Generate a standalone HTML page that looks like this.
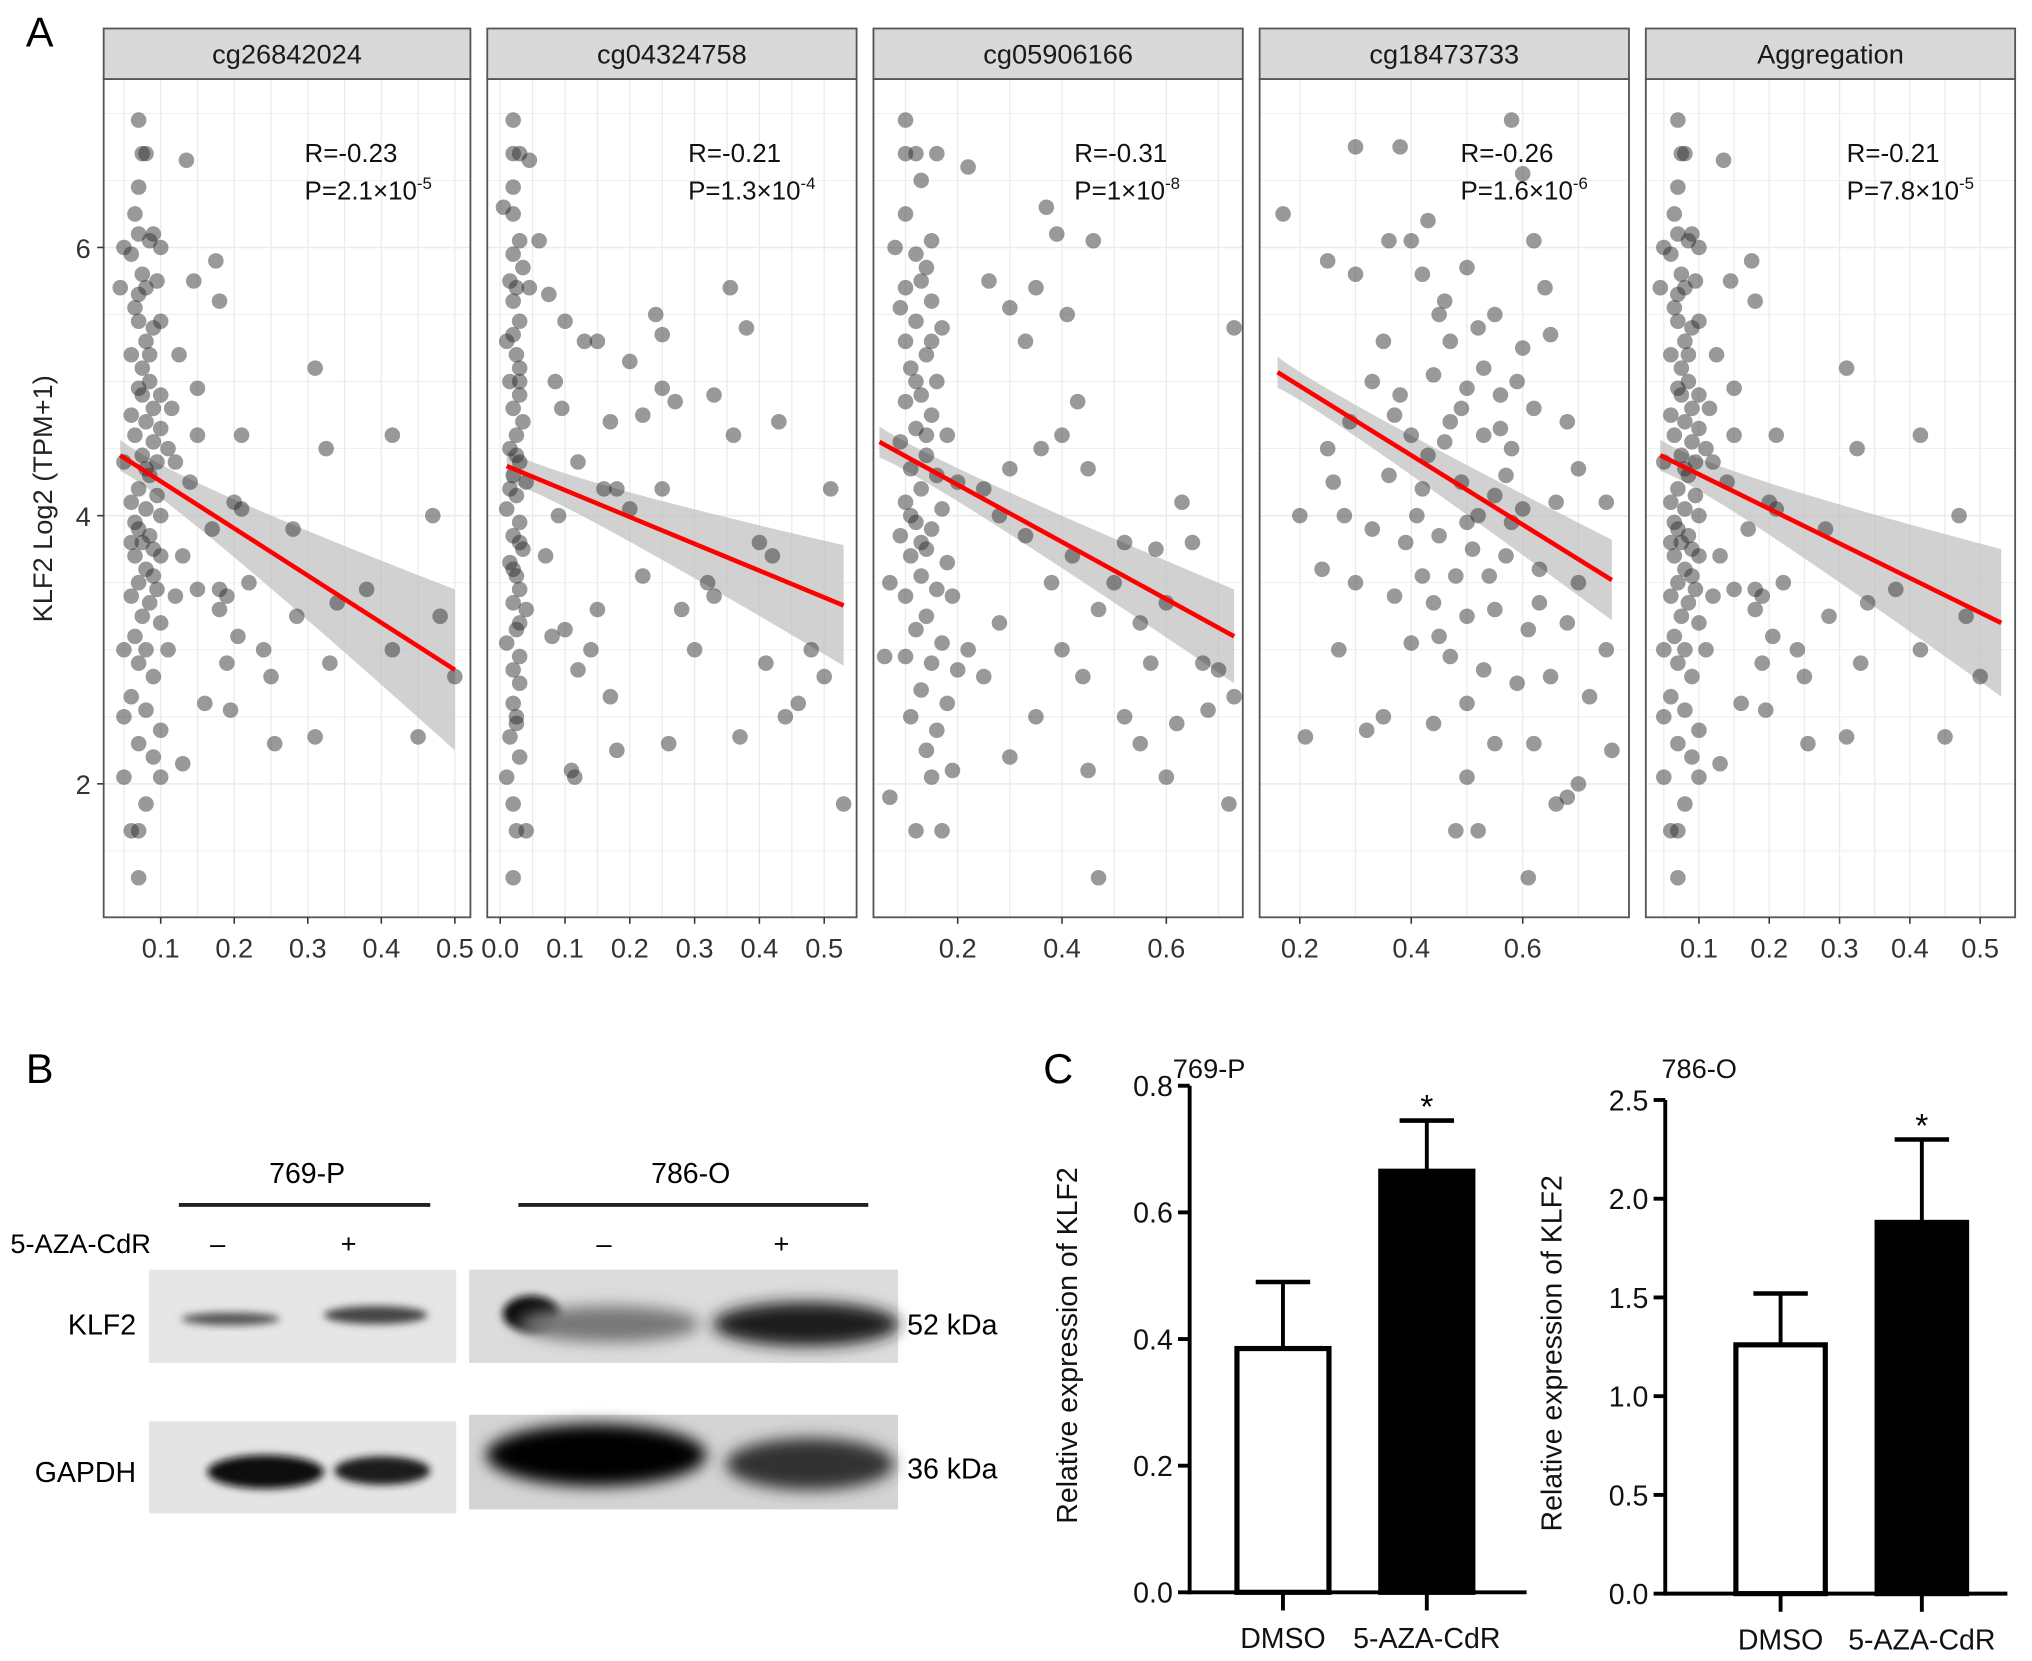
<!DOCTYPE html>
<html><head><meta charset="utf-8"><style>
html,body{margin:0;padding:0;background:#fff;}
svg{display:block;font-family:"Liberation Sans",sans-serif;}
</style></head><body>
<svg id="fig" width="2032" height="1661" viewBox="0 0 1568 1282" preserveAspectRatio="none" xmlns="http://www.w3.org/2000/svg">
<defs>
<filter id="blur" x="-20%" y="-50%" width="140%" height="200%"><feGaussianBlur stdDeviation="6"/></filter>
<filter id="blur2" x="-20%" y="-50%" width="140%" height="200%"><feGaussianBlur stdDeviation="3"/></filter>
</defs>
<g id="panelA"></g>
<text x="20" y="36" font-size="32">A</text>
<text transform="translate(40,385) rotate(-90)" text-anchor="middle" font-size="21" fill="#222">KLF2 Log2 (TPM+1)</text>

<g>
<text x="20" y="836" font-size="32">B</text>
<text x="237" y="913" text-anchor="middle" font-size="22">769-P</text>
<line x1="138" y1="930" x2="332" y2="930" stroke="#222" stroke-width="3"/>
<text x="533" y="913" text-anchor="middle" font-size="22">786-O</text>
<line x1="400" y1="930" x2="670" y2="930" stroke="#222" stroke-width="3"/>
<text x="8" y="967" font-size="21">5-AZA-CdR</text>
<text x="168" y="967" text-anchor="middle" font-size="21">–</text>
<text x="269" y="967" text-anchor="middle" font-size="21">+</text>
<text x="466" y="967" text-anchor="middle" font-size="21">–</text>
<text x="603" y="967" text-anchor="middle" font-size="21">+</text>
<text x="105" y="1030" text-anchor="end" font-size="22">KLF2</text>
<text x="105" y="1144" text-anchor="end" font-size="22">GAPDH</text>
<text x="700" y="1030" font-size="22">52 kDa</text>
<text x="700" y="1141" font-size="22">36 kDa</text>
<g>
<rect x="115" y="980" width="237" height="72" fill="#e6e6e6"/>
<ellipse cx="178" cy="1018" rx="38" ry="5" fill="#555" filter="url(#blur2)"/>
<ellipse cx="290" cy="1015" rx="40" ry="7" fill="#444" filter="url(#blur2)"/>
</g>
<g>
<rect x="362" y="980" width="331" height="72" fill="#dcdcdc"/>
<ellipse cx="410" cy="1014" rx="22" ry="14" fill="#111" filter="url(#blur2)"/>
<ellipse cx="470" cy="1022" rx="70" ry="14" fill="#777" filter="url(#blur)"/>
<ellipse cx="622" cy="1022" rx="72" ry="17" fill="#1a1a1a" filter="url(#blur)"/>
</g>
<g>
<rect x="115" y="1097" width="237" height="71" fill="#e4e4e4"/>
<ellipse cx="205" cy="1136" rx="45" ry="13" fill="#0a0a0a" filter="url(#blur2)"/>
<ellipse cx="295" cy="1135" rx="37" ry="11" fill="#1a1a1a" filter="url(#blur2)"/>
</g>
<g>
<rect x="362" y="1092" width="331" height="73" fill="#d4d4d4"/>
<ellipse cx="460" cy="1123" rx="85" ry="24" fill="#050505" filter="url(#blur)"/>
<ellipse cx="625" cy="1130" rx="65" ry="20" fill="#333" filter="url(#blur)"/>
</g>
</g>

<text x="805" y="836" font-size="32">C</text>
<g id="panelC"></g>
</svg>
<script>
const panelTitles = ["cg26842024","cg04324758","cg05906166","cg18473733","Aggregation"];
const rValues = ["-0.23","-0.21","-0.31","-0.26","-0.21"];
const pMant = ["2.1","1.3","1","1.6","7.8"];
const pExp = ["-5","-4","-8","-6","-5"];
const yTicks = [2,4,6];
const xTicks1 = [0.1,0.2,0.3,0.4,0.5];
const xTicks2 = [0.0,0.1,0.2,0.3,0.4,0.5];
const xTicks3 = [0.2,0.4,0.6];
const xTicks4 = [0.2,0.4,0.6];
const xTicks5 = [0.1,0.2,0.3,0.4,0.5];
const fitLines = [[0.045,4.45,0.5,2.85,0.6],[0.01,4.37,0.53,3.33,0.45],[0.05,4.55,0.73,3.1,0.35],[0.16,5.07,0.76,3.52,0.3],[0.045,4.45,0.53,3.2,0.55]];
const pts1 = [0.07,6.95,0.075,6.7,0.08,6.7,0.07,6.45,0.065,6.25,0.07,6.1,0.085,6.05,0.09,6.1,0.05,6.0,0.1,6.0,0.06,5.95,0.075,5.8,0.08,5.7,0.095,5.75,0.045,5.7,0.065,5.55,0.07,5.45,0.09,5.4,0.1,5.45,0.08,5.3,0.06,5.2,0.075,5.1,0.085,5.0,0.07,4.95,0.1,4.9,0.09,4.8,0.06,4.75,0.08,4.7,0.1,4.65,0.065,4.6,0.09,4.55,0.075,4.45,0.11,4.5,0.05,4.4,0.085,4.3,0.07,4.2,0.095,4.15,0.06,4.1,0.08,4.05,0.1,4.0,0.07,3.9,0.085,3.85,0.075,3.8,0.09,3.75,0.065,3.7,0.1,3.7,0.08,3.6,0.07,3.5,0.095,3.45,0.06,3.4,0.085,3.35,0.075,3.25,0.1,3.2,0.065,3.1,0.08,3.0,0.05,3.0,0.07,2.9,0.09,2.8,0.06,2.65,0.08,2.55,0.05,2.5,0.1,2.4,0.07,2.3,0.09,2.2,0.05,2.05,0.1,2.05,0.08,1.85,0.07,1.65,0.06,1.65,0.07,1.3,0.12,4.4,0.115,4.8,0.125,5.2,0.13,3.7,0.12,3.4,0.11,3.0,0.135,6.65,0.145,5.75,0.15,4.6,0.15,4.95,0.14,4.25,0.15,3.45,0.16,2.6,0.13,2.15,0.175,5.9,0.18,5.6,0.17,3.9,0.18,3.45,0.18,3.3,0.19,2.9,0.195,2.55,0.2,4.1,0.21,4.6,0.22,3.5,0.24,3.0,0.25,2.8,0.255,2.3,0.28,3.9,0.285,3.25,0.31,5.1,0.31,2.35,0.325,4.5,0.33,2.9,0.34,3.35,0.38,3.45,0.415,4.6,0.415,3.0,0.45,2.35,0.47,4.0,0.48,3.25,0.5,2.8,0.205,3.1,0.19,3.4,0.21,4.05,0.075,4.9,0.085,5.2,0.065,3.95,0.09,3.55,0.08,4.35,0.07,5.65,0.095,4.4,0.06,3.8];
const pts2 = [0.02,6.95,0.02,6.7,0.03,6.7,0.045,6.65,0.02,6.45,0.005,6.3,0.02,6.25,0.03,6.05,0.02,5.95,0.035,5.85,0.015,5.75,0.025,5.7,0.045,5.7,0.06,6.05,0.075,5.65,0.02,5.6,0.03,5.45,0.01,5.3,0.025,5.2,0.03,5.1,0.015,5.0,0.03,4.9,0.02,4.8,0.035,4.7,0.025,4.6,0.015,4.5,0.03,4.4,0.02,4.3,0.04,4.25,0.025,4.15,0.01,4.05,0.03,3.95,0.02,3.85,0.035,3.75,0.015,3.65,0.025,3.55,0.03,3.45,0.02,3.35,0.04,3.3,0.025,3.15,0.01,3.05,0.03,2.95,0.02,2.85,0.03,2.75,0.02,2.6,0.025,2.45,0.015,2.35,0.03,2.2,0.01,2.05,0.02,1.85,0.025,1.65,0.04,1.65,0.02,1.3,0.02,5.35,0.03,5.0,0.025,4.45,0.015,4.2,0.03,3.8,0.02,3.6,0.03,3.2,0.025,2.5,0.1,5.45,0.07,3.7,0.09,4.0,0.085,5.0,0.095,4.8,0.13,5.3,0.15,5.3,0.17,4.7,0.2,5.15,0.24,5.5,0.25,5.35,0.27,4.85,0.25,4.95,0.22,4.75,0.16,4.2,0.18,4.2,0.2,4.05,0.12,4.4,0.12,2.85,0.14,3.0,0.15,3.3,0.17,2.65,0.18,2.25,0.11,2.1,0.115,2.05,0.22,3.55,0.25,4.2,0.26,2.3,0.28,3.3,0.3,3.0,0.32,3.5,0.33,4.9,0.33,3.4,0.355,5.7,0.36,4.6,0.38,5.4,0.37,2.35,0.4,3.8,0.41,2.9,0.42,3.7,0.43,4.7,0.44,2.5,0.46,2.6,0.48,3.0,0.5,2.8,0.51,4.2,0.53,1.85,0.08,3.1,0.1,3.15];
const pts3 = [0.1,6.95,0.12,6.7,0.1,6.7,0.16,6.7,0.13,6.5,0.1,6.25,0.15,6.05,0.08,6.0,0.12,5.95,0.14,5.85,0.1,5.7,0.13,5.75,0.15,5.6,0.09,5.55,0.12,5.45,0.17,5.4,0.1,5.3,0.14,5.2,0.11,5.1,0.16,5.0,0.13,4.9,0.1,4.85,0.15,4.75,0.12,4.65,0.18,4.6,0.09,4.55,0.14,4.45,0.11,4.35,0.16,4.3,0.2,4.25,0.13,4.2,0.1,4.1,0.17,4.05,0.12,3.95,0.15,3.9,0.09,3.85,0.14,3.75,0.11,3.7,0.18,3.65,0.13,3.55,0.16,3.45,0.1,3.4,0.19,3.4,0.14,3.25,0.12,3.15,0.17,3.05,0.1,2.95,0.15,2.9,0.2,2.85,0.13,2.7,0.18,2.6,0.11,2.5,0.16,2.4,0.14,2.25,0.19,2.1,0.15,2.05,0.12,1.65,0.17,1.65,0.07,1.9,0.06,2.95,0.07,3.5,0.12,5.0,0.14,4.6,0.11,4.0,0.13,3.8,0.15,5.3,0.22,6.6,0.26,5.75,0.3,5.55,0.33,5.3,0.35,5.7,0.37,6.3,0.41,5.5,0.46,6.05,0.39,6.1,0.43,4.85,0.45,4.35,0.4,4.6,0.36,4.5,0.3,4.35,0.25,4.2,0.28,4.0,0.33,3.85,0.38,3.5,0.42,3.7,0.47,3.3,0.5,3.5,0.52,3.8,0.55,3.2,0.58,3.75,0.6,3.35,0.63,4.1,0.65,3.8,0.67,2.9,0.7,2.85,0.73,2.65,0.72,1.85,0.73,5.4,0.6,2.05,0.55,2.3,0.52,2.5,0.45,2.1,0.47,1.3,0.35,2.5,0.3,2.2,0.25,2.8,0.28,3.2,0.22,3.0,0.4,3.0,0.44,2.8,0.62,2.45,0.68,2.55,0.57,2.9];
const pts4 = [0.17,6.25,0.3,6.75,0.38,6.75,0.36,6.05,0.4,6.05,0.43,6.2,0.58,6.95,0.6,6.55,0.62,6.05,0.64,5.7,0.5,5.85,0.45,5.5,0.42,5.8,0.25,5.9,0.3,5.8,0.35,5.3,0.47,5.3,0.52,5.4,0.55,5.5,0.6,5.25,0.65,5.35,0.33,5.0,0.38,4.9,0.44,5.05,0.5,4.95,0.56,4.9,0.62,4.8,0.68,4.7,0.29,4.7,0.4,4.6,0.46,4.55,0.53,4.6,0.58,4.5,0.7,4.35,0.25,4.5,0.36,4.3,0.42,4.2,0.49,4.25,0.55,4.15,0.6,4.05,0.66,4.1,0.75,4.1,0.28,4.0,0.33,3.9,0.39,3.8,0.45,3.85,0.51,3.75,0.57,3.7,0.63,3.6,0.7,3.5,0.3,3.5,0.37,3.4,0.44,3.35,0.5,3.25,0.55,3.3,0.61,3.15,0.68,3.2,0.75,3.0,0.4,3.05,0.47,2.95,0.53,2.85,0.59,2.75,0.65,2.8,0.72,2.65,0.35,2.5,0.44,2.45,0.5,2.6,0.55,2.3,0.62,2.3,0.7,2.0,0.76,2.25,0.21,2.35,0.5,2.05,0.48,1.65,0.52,1.65,0.61,1.3,0.66,1.85,0.68,1.9,0.2,4.0,0.24,3.6,0.27,3.0,0.32,2.4,0.26,4.25,0.57,4.3,0.47,4.7,0.53,5.1,0.41,4.0,0.48,3.55,0.58,3.95,0.43,4.45,0.52,4.0,0.46,5.6,0.56,4.65,0.42,3.55,0.49,4.8,0.54,3.55,0.37,4.75,0.59,5.0,0.5,3.95,0.45,3.1,0.63,3.35];
const pts5 = pts1.slice();
const panelPoints = [pts1,pts2,pts3,pts4,pts5];
const panelXTicks = [xTicks1,xTicks2,xTicks3,xTicks4,xTicks5];

const barCats = ["DMSO","5-AZA-CdR"];
const c1Values = [0.385,0.665];
const c1Errors = [0.105,0.08];
const c1Ticks = [0.0,0.2,0.4,0.6,0.8];
const c2Values = [1.26,1.88];
const c2Errors = [0.26,0.42];
const c2Ticks = [0.0,0.5,1.0,1.5,2.0,2.5];

const NS="http://www.w3.org/2000/svg";
function mk(tag,attrs,parent,txt){const e=document.createElementNS(NS,tag);for(const k in attrs)e.setAttribute(k,attrs[k]);if(txt!==undefined)e.textContent=txt;parent.appendChild(e);return e;}

const boxes=[[80,363,124,0.1,567.5],[376,661,386,0.0,500],[674,959,739,0.2,402.5],[972,1257,1003,0.2,430],[1270,1555,1311,0.1,542.5]];
const plotTop=61, plotBot=708;
function yScale(v){return 605-(v-2)*103.5;}
const A=document.getElementById('panelA');
for(let p=0;p<5;p++){
  const [L,R,ax,av,ppu]=boxes[p];
  const xs=v=>ax+(v-av)*ppu;
  const g=mk('g',{},A);
  
  
  mk('rect',{x:L,y:plotTop,width:R-L,height:plotBot-plotTop,fill:'#fff'},g);
  for(let v=1.5;v<7.3;v+=0.5){const y=yScale(v);if(y>plotTop&&y<plotBot)mk('line',{x1:L,x2:R,y1:y,y2:y,stroke:'#ebebeb','stroke-width':(v%2===0)?1.2:0.6},g);}
  const tk=panelXTicks[p];const step=tk[1]-tk[0];
  for(let v=tk[0]-step;v<=tk[tk.length-1]+step+1e-9;v+=step/2){const x=xs(v);if(x>L&&x<R)mk('line',{x1:x,x2:x,y1:plotTop,y2:plotBot,stroke:'#ebebeb','stroke-width':1},g);}
  const f=fitLines[p];
  const y1=yScale(f[1]),y2=yScale(f[3]);const x1=xs(f[0]),x2=xs(f[2]);
  const hw=f[4]*103.5;
  const xm=x1+(x2-x1)*0.15, ym=y1+(y2-y1)*0.15;
  mk('path',{d:`M${x1},${y1-12} Q${xm},${ym-6} ${x2},${y2-hw} L${x2},${y2+hw} Q${xm},${ym+6} ${x1},${y1+12}Z`,fill:'#bdbdbd','fill-opacity':0.7},g);
  const pts=panelPoints[p];
  for(let i=0;i<pts.length;i+=2){
    const c=mk('circle',{cx:xs(pts[i]),cy:yScale(pts[i+1]),r:6,fill:'#2a2a2a','fill-opacity':0.48},g);
    
    
  }
  const ln=mk('line',{x1:x1,y1:y1,x2:x2,y2:y2,stroke:'#f00','stroke-width':3.5},g);
  
  
  mk('rect',{x:L,y:plotTop,width:R-L,height:plotBot-plotTop,fill:'none',stroke:'#555','stroke-width':1.4},g);
  mk('rect',{x:L,y:22,width:R-L,height:39,fill:'#d9d9d9',stroke:'#555','stroke-width':1.4},g);
  const st=mk('text',{x:(L+R)/2,y:49,'text-anchor':'middle','font-size':21,fill:'#1a1a1a'},g,panelTitles[p]);
  
  
  const sx=L+155;
  mk('text',{x:sx,y:125,'font-size':20,fill:'#111'},g,'R='+rValues[p]);
  const pt=mk('text',{x:sx,y:154,'font-size':20,fill:'#111'},g);
  
  
  mk('tspan',{},pt,'P='+pMant[p]+'×10');
  mk('tspan',{dy:-8,'font-size':13},pt,pExp[p]);
  tk.forEach(v=>{const x=xs(v);mk('line',{x1:x,x2:x,y1:plotBot,y2:plotBot+5,stroke:'#333','stroke-width':1.2},g);
    const t=mk('text',{x:x,y:739,'text-anchor':'middle','font-size':21,fill:'#333'},g,v.toFixed(1));
    
    });
  if(p===0){yTicks.forEach(v=>{const y=yScale(v);mk('line',{x1:L-5,x2:L,y1:y,y2:y,stroke:'#333','stroke-width':1.2},g);
    const t=mk('text',{x:L-10,y:y+8,'text-anchor':'end','font-size':21,fill:'#333'},g,String(v));
    
    });}
}

const C=document.getElementById('panelC');
function barChart(cfg){
  const g=mk('g',{},C);
  
  
  const ys=v=>cfg.y0-(v/cfg.max)*(cfg.y0-cfg.yTop);
  mk('line',{x1:cfg.ax,x2:cfg.ax,y1:ys(cfg.max),y2:cfg.y0+1.5,stroke:'#000','stroke-width':3},g);
  mk('line',{x1:cfg.ax-1.5,x2:cfg.xEnd,y1:cfg.y0,y2:cfg.y0,stroke:'#000','stroke-width':3},g);
  cfg.ticks.forEach(v=>{const y=ys(v);mk('line',{x1:cfg.ax-9,x2:cfg.ax,y1:y,y2:y,stroke:'#000','stroke-width':3},g);
    const t=mk('text',{x:cfg.ax-13,y:y+8,'text-anchor':'end','font-size':22,fill:'#111'},g,v.toFixed(1));
    
    });
  cfg.vals.forEach((v,i)=>{
    const cx=cfg.cx[i];const w=cfg.bw;
    const barTop=ys(v);
    const b=mk('rect',{x:cx-w/2,y:barTop,width:w,height:cfg.y0-barTop,fill:i===0?'#fff':'#000',stroke:'#000','stroke-width':4},g);
    
    
    const et=ys(v+cfg.errs[i]);
    mk('line',{x1:cx,x2:cx,y1:barTop,y2:et,stroke:'#000','stroke-width':3},g);
    mk('line',{x1:cx-21,x2:cx+21,y1:et,y2:et,stroke:'#000','stroke-width':3.5},g);
    if(i===1){const s=mk('text',{x:cx,y:et-2,'text-anchor':'middle','font-size':26,fill:'#000'},g,'*');
      
      }
    mk('line',{x1:cx,x2:cx,y1:cfg.y0,y2:cfg.y0+14,stroke:'#000','stroke-width':3},g);
    const t=mk('text',{x:cx,y:cfg.y0+43,'text-anchor':'middle','font-size':22,fill:'#111'},g,barCats[i]);
    
    
  });
  mk('text',{x:cfg.tx,y:832,'font-size':21,fill:'#111'},g,cfg.title);
  const yl=mk('text',{transform:`translate(${cfg.ylx},${(cfg.y0+ys(cfg.max))/2+5}) rotate(-90)`,'text-anchor':'middle','font-size':22,fill:'#111'},g,'Relative expression of KLF2');
  
  
}
barChart({name:'bar-chart-769p',vals:c1Values,errs:c1Errors,ticks:c1Ticks,max:0.8,ax:918,y0:1229,yTop:838,xEnd:1178,cx:[990,1101],bw:71,tx:905,title:'769-P',ylx:831});
barChart({name:'bar-chart-786o',vals:c2Values,errs:c2Errors,ticks:c2Ticks,max:2.5,ax:1285,y0:1230,yTop:849,xEnd:1549,cx:[1374,1483],bw:69,tx:1282,title:'786-O',ylx:1205});
</script>
</body></html>
